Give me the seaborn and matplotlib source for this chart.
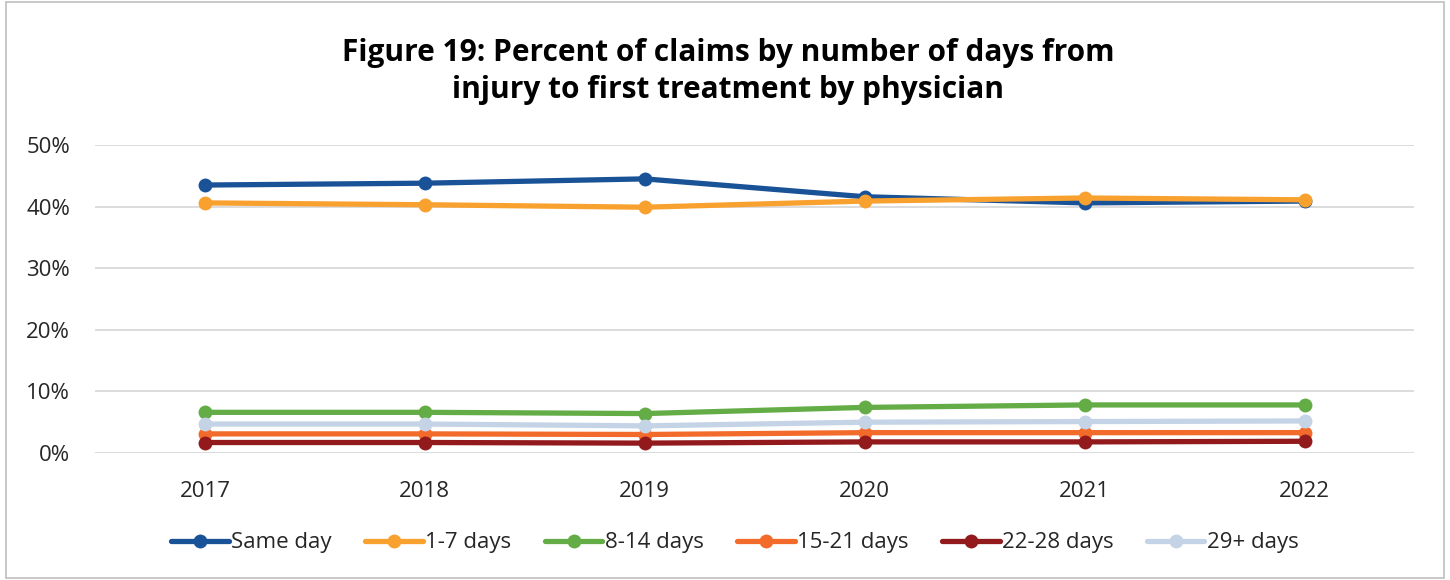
import pandas as pd
import numpy as np
import matplotlib.pyplot as plt
import seaborn as sns
from matplotlib.patches import Rectangle

years = ['2017', '2018', '2019', '2020', '2021', '2022']
same_day = [43.5, 43.8, 44.5, 41.6, 40.6, 40.9]
days_1_7 = [40.6, 40.3, 39.9, 40.9, 41.4, 41.1]
days_8_14 = [6.6, 6.6, 6.4, 7.4, 7.8, 7.8]
days_15_21 = [3.1, 3.1, 3.0, 3.3, 3.3, 3.3]
days_22_28 = [1.7, 1.7, 1.6, 1.8, 1.8, 1.9]
days_29_plus = [4.7, 4.7, 4.4, 5.0, 5.1, 5.2]

series = {
    'Same day': same_day,
    '1-7 days': days_1_7,
    '8-14 days': days_8_14,
    '15-21 days': days_15_21,
    '22-28 days': days_22_28,
    '29+ days': days_29_plus,
}
colors = ['#1A5298', '#F9A12E', '#63AC46', '#F26B2A', '#921A1D', '#C5D3E6']

rows = []
for name, vals in series.items():
    for i, v in enumerate(vals):
        rows.append({'year': i, 'series': name, 'pct': v})
df = pd.DataFrame(rows)

sns.set_style('white')
plt.rcParams['font.family'] = ['Open Sans', 'DejaVu Sans']

fig = plt.figure(figsize=(14.5, 5.8), dpi=100)
ax = fig.add_axes([0.0655, 0.219, 0.910, 0.531])

sns.lineplot(data=df, x='year', y='pct', hue='series', palette=colors,
             marker='o', markersize=10, markeredgewidth=0, linewidth=3.8,
             ax=ax, legend=True)

ax.set_xlim(-0.5, 5.5)
ax.set_ylim(0, 50)
ax.set_xticks(range(len(years)))
ax.set_xticklabels(years)
ax.set_yticks([0, 10, 20, 30, 40, 50])
ax.set_yticklabels([f'{v}%' for v in [0, 10, 20, 30, 40, 50]])
ax.yaxis.grid(True, color='#d9d9d9', linewidth=1.3)
ax.set_axisbelow(True)
for s in ax.spines.values():
    s.set_visible(False)
ax.tick_params(axis='both', length=0, labelsize=16, colors='#262626')
ax.tick_params(axis='x', pad=20)
ax.tick_params(axis='y', pad=18)
ax.set_xlabel('')
ax.set_ylabel('')

handles, labels = ax.get_legend_handles_labels()
ax.legend(handles, labels, loc='center', bbox_to_anchor=(0.485, -0.292),
          ncol=6, frameon=False, fontsize=16, handlelength=2.6,
          handletextpad=0.1, columnspacing=1.5)

fig.text(0.502, 0.877, 'Figure 19: Percent of claims by number of days from\ninjury to first treatment by physician',
         ha='center', va='center', fontsize=21.5, fontweight='bold', linespacing=1.3,
         color='black')

fig.patches.append(Rectangle((0.004, 0.004), 0.992, 0.992, transform=fig.transFigure,
                             fill=False, edgecolor='#bfbfbf', linewidth=1.2))

plt.savefig('out.png', dpi=100)
